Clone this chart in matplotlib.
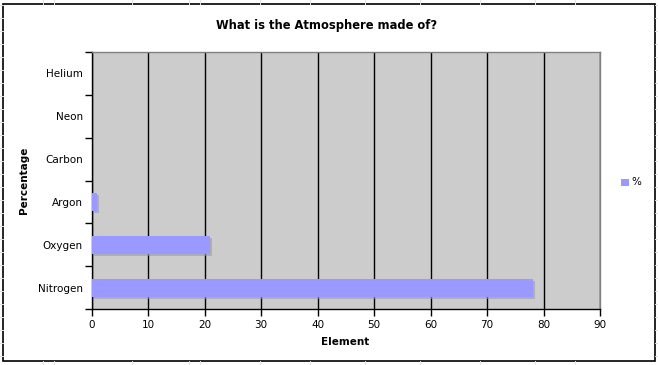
import matplotlib
matplotlib.use("Agg")
import matplotlib.pyplot as plt
import matplotlib.patheffects as pe
from matplotlib.lines import Line2D
from matplotlib.patches import Rectangle

categories = ["Nitrogen", "Oxygen", "Argon", "Carbon", "Neon", "Helium"]
values = [78.1, 21.0, 0.93, 0.0, 0.0, 0.0]
x_ticks = [0, 10, 20, 30, 40, 50, 60, 70, 80, 90]
series_name = "%"

W, H = 658, 365
fig = plt.figure(figsize=(W / 100, H / 100), dpi=100)
fig.patch.set_facecolor("white")

# faint spreadsheet grid outside the chart frame
for y in range(5, H, 13):
    fig.add_artist(Line2D([0, 3 / W], [1 - y / H, 1 - y / H], color="#e2e2e2", lw=0.7))
    fig.add_artist(Line2D([655 / W, 1], [1 - y / H, 1 - y / H], color="#e2e2e2", lw=0.7))
for x in [43, 54, 132, 189, 200, 260, 310, 365, 420, 480, 535, 575]:
    fig.add_artist(Line2D([x / W, x / W], [1 - 4 / H, 1], color="#e2e2e2", lw=0.7))
    fig.add_artist(Line2D([x / W, x / W], [0, 1 - 361 / H], color="#e2e2e2", lw=0.7))

# chart frame
fig.add_artist(Rectangle((3 / W, 1 - 361 / H), 652 / W, 357 / H, transform=fig.transFigure,
                         facecolor="none", edgecolor="black", lw=1.2))

left, right, top, bottom = 91.7, 600, 52, 309
ax = fig.add_axes([left / W, 1 - bottom / H, (right - left) / W, (bottom - top) / H])
ax.set_facecolor("#cccccc")

ypos = list(range(len(categories)))
bars = ax.barh(ypos, values, height=0.42, color="#9999ff", label=series_name, zorder=3)
for b in bars:
    b.set_path_effects([pe.SimplePatchShadow(offset=(1.5, -1.5), shadow_rgbFace="#9a9aa8", alpha=0.6),
                        pe.Normal()])

ax.set_xlim(0, 90)
ax.set_ylim(-0.5, len(categories) - 0.5)
ax.set_xticks(x_ticks)
ax.set_xticklabels([str(t) for t in x_ticks], fontsize=7.5)
ax.set_yticks(ypos)
ax.set_yticklabels(categories, fontsize=7.5)
ax.set_yticks([i - 0.5 for i in range(len(categories) + 1)], minor=True)
ax.tick_params(axis="y", which="major", length=0, pad=6.5)
ax.tick_params(axis="y", which="minor", length=5, width=1, color="black")
ax.tick_params(axis="x", which="major", length=5, width=1, color="black", pad=3)
ax.xaxis.grid(True, color="black", lw=1, zorder=1)
ax.set_axisbelow(True)

for s in ["top", "right"]:
    ax.spines[s].set_color("#808080")
    ax.spines[s].set_linewidth(1)
for s in ["left", "bottom"]:
    ax.spines[s].set_color("black")
    ax.spines[s].set_linewidth(1)

fig.text(327 / W, 1 - 25 / H, "What is the Atmosphere made of?", fontsize=8.3, fontweight="bold",
         ha="center", va="center")
fig.text(345 / W, 1 - 342 / H, "Element", fontsize=7.5, fontweight="bold", ha="center", va="center")
fig.text(24 / W, 1 - 180 / H, "Percentage", fontsize=7.5, fontweight="bold", ha="center",
         va="center", rotation=90)

# legend
fig.add_artist(Rectangle((621 / W, 1 - 186 / H), 7.5 / W, 7.5 / H, transform=fig.transFigure,
                         facecolor="#9999ff", edgecolor="none"))
fig.text(631 / W, 1 - 182 / H, series_name, fontsize=7.5, ha="left", va="center")

fig.savefig("out.png", dpi=100)
